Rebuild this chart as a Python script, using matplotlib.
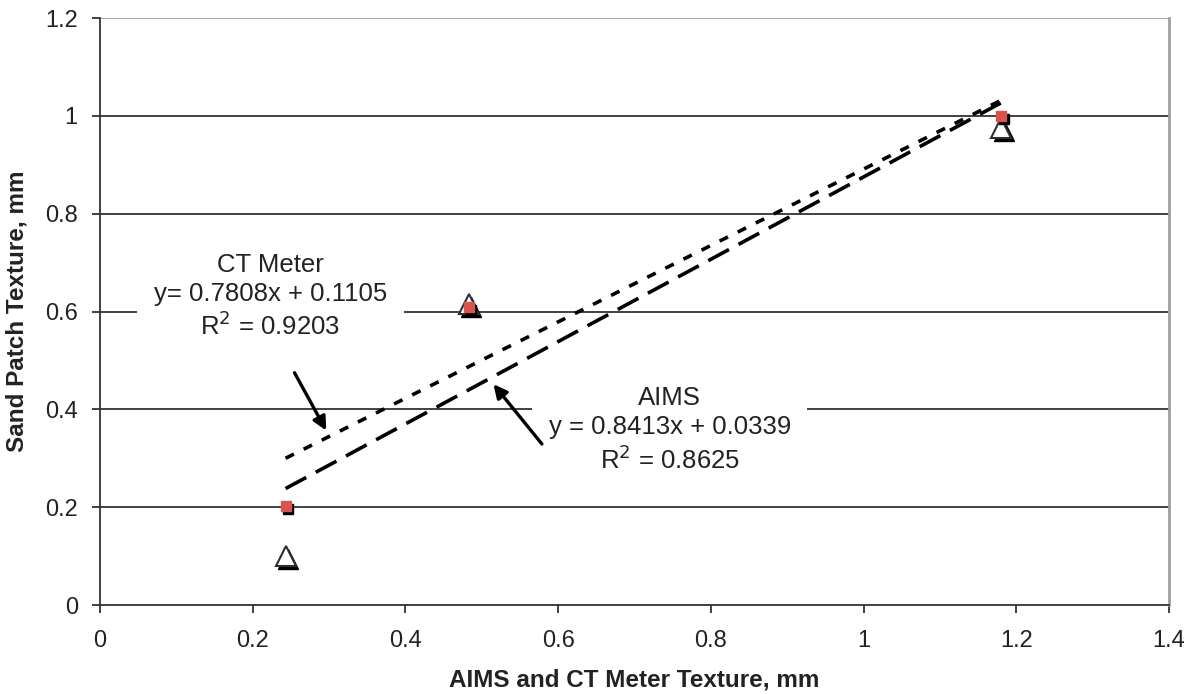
import matplotlib
matplotlib.use("Agg")
import matplotlib.pyplot as plt
import matplotlib.transforms as mtransforms
import numpy as np

plt.rcParams['font.family'] = ['Liberation Sans', 'DejaVu Sans']

# Data
x_texture = [0.243, 0.483, 1.180]
ct_meter = [0.203, 0.610, 1.000]
aims = [0.100, 0.615, 0.975]

ct_fit = (0.7808, 0.1105)
aims_fit = (0.8413, 0.0339)

x_ticks = [0, 0.2, 0.4, 0.6, 0.8, 1, 1.2, 1.4]
x_ticklabels = ['0', '0.2', '0.4', '0.6', '0.8', '1', '1.2', '1.4']
y_ticks = [0, 0.2, 0.4, 0.6, 0.8, 1, 1.2]
y_ticklabels = ['0', '0.2', '0.4', '0.6', '0.8', '1', '1.2']

fig = plt.figure(figsize=(11.89, 6.94), dpi=100)
ax = fig.add_axes([0.0841, 0.128, 0.8991, 0.846])
ax.set_xlim(0, 1.4)
ax.set_ylim(0, 1.2)

# gridlines
for yv in y_ticks[1:]:
    ax.axhline(yv, color='#333333' if yv < 1.2 else '#9aa0a6', lw=1.3, zorder=1)

ax.spines['top'].set_visible(False)
ax.spines['right'].set_color('#9aa0a6')
ax.spines['right'].set_linewidth(2)
ax.spines['left'].set_color('#333333')
ax.spines['bottom'].set_color('#333333')
ax.spines['left'].set_linewidth(1.3)
ax.spines['bottom'].set_linewidth(1.3)

ax.set_xticks(x_ticks)
ax.set_xticklabels(x_ticklabels)
ax.set_yticks(y_ticks)
ax.set_yticklabels(y_ticklabels)
ax.tick_params(axis='both', direction='out', length=6, width=1.3, color='#333333',
               labelsize=17, labelcolor='#222222')
ax.tick_params(axis='x', pad=12)
ax.tick_params(axis='y', pad=10)

ax.set_xlabel('AIMS and CT Meter Texture, mm', fontsize=17.5, fontweight='bold',
              labelpad=12, color='#222222')
ax.set_ylabel('Sand Patch Texture, mm', fontsize=17.5, fontweight='bold',
              labelpad=12, color='#222222')

# trendlines
xs = np.array([min(x_texture), max(x_texture)])
ax.plot(xs, aims_fit[0] * xs + aims_fit[1], color='black', lw=2.6,
        dashes=(6.5, 3), zorder=4)
ax.plot(xs, ct_fit[0] * xs + ct_fit[1], color='black', lw=2.6,
        dashes=(2.6, 3), zorder=4)

# markers with shadows
shadow = mtransforms.offset_copy(ax.transData, fig=fig, x=2.5, y=-3, units='dots')
ax.plot(x_texture, aims, linestyle='none', marker='^', ms=14, color='black',
        transform=shadow, zorder=5)
ax.plot(x_texture, aims, linestyle='none', marker='^', ms=14, mfc='white',
        mec='#2a2f33', mew=1.5, zorder=6)
ax.plot(x_texture, ct_meter, linestyle='none', marker='s', ms=7.5, color='black',
        transform=shadow, zorder=7)
ax.plot(x_texture, ct_meter, linestyle='none', marker='s', ms=7.5, color='#d9534f',
        mec='#d9534f', zorder=8)

# annotations
ax.text(0.223, 0.63, 'CT Meter\ny= 0.7808x + 0.1105\nR$^2$ = 0.9203', ha='center',
        va='center', fontsize=18.5, color='#222222', linespacing=1.25,
        bbox=dict(facecolor='white', edgecolor='none', pad=12), zorder=3)
ax.text(0.746, 0.358, 'AIMS\ny = 0.8413x + 0.0339\nR$^2$ = 0.8625', ha='center',
        va='center', fontsize=18.5, color='#222222', linespacing=1.25,
        bbox=dict(facecolor='white', edgecolor='none', pad=12), zorder=3)

ax.annotate('', xy=(0.298, 0.352), xytext=(0.253, 0.48),
            arrowprops=dict(arrowstyle='-|>', color='black', lw=2.4,
                            mutation_scale=20), zorder=9)
ax.annotate('', xy=(0.513, 0.456), xytext=(0.581, 0.325),
            arrowprops=dict(arrowstyle='-|>', color='black', lw=2.4,
                            mutation_scale=20), zorder=9)

fig.savefig('out.png', dpi=100)
